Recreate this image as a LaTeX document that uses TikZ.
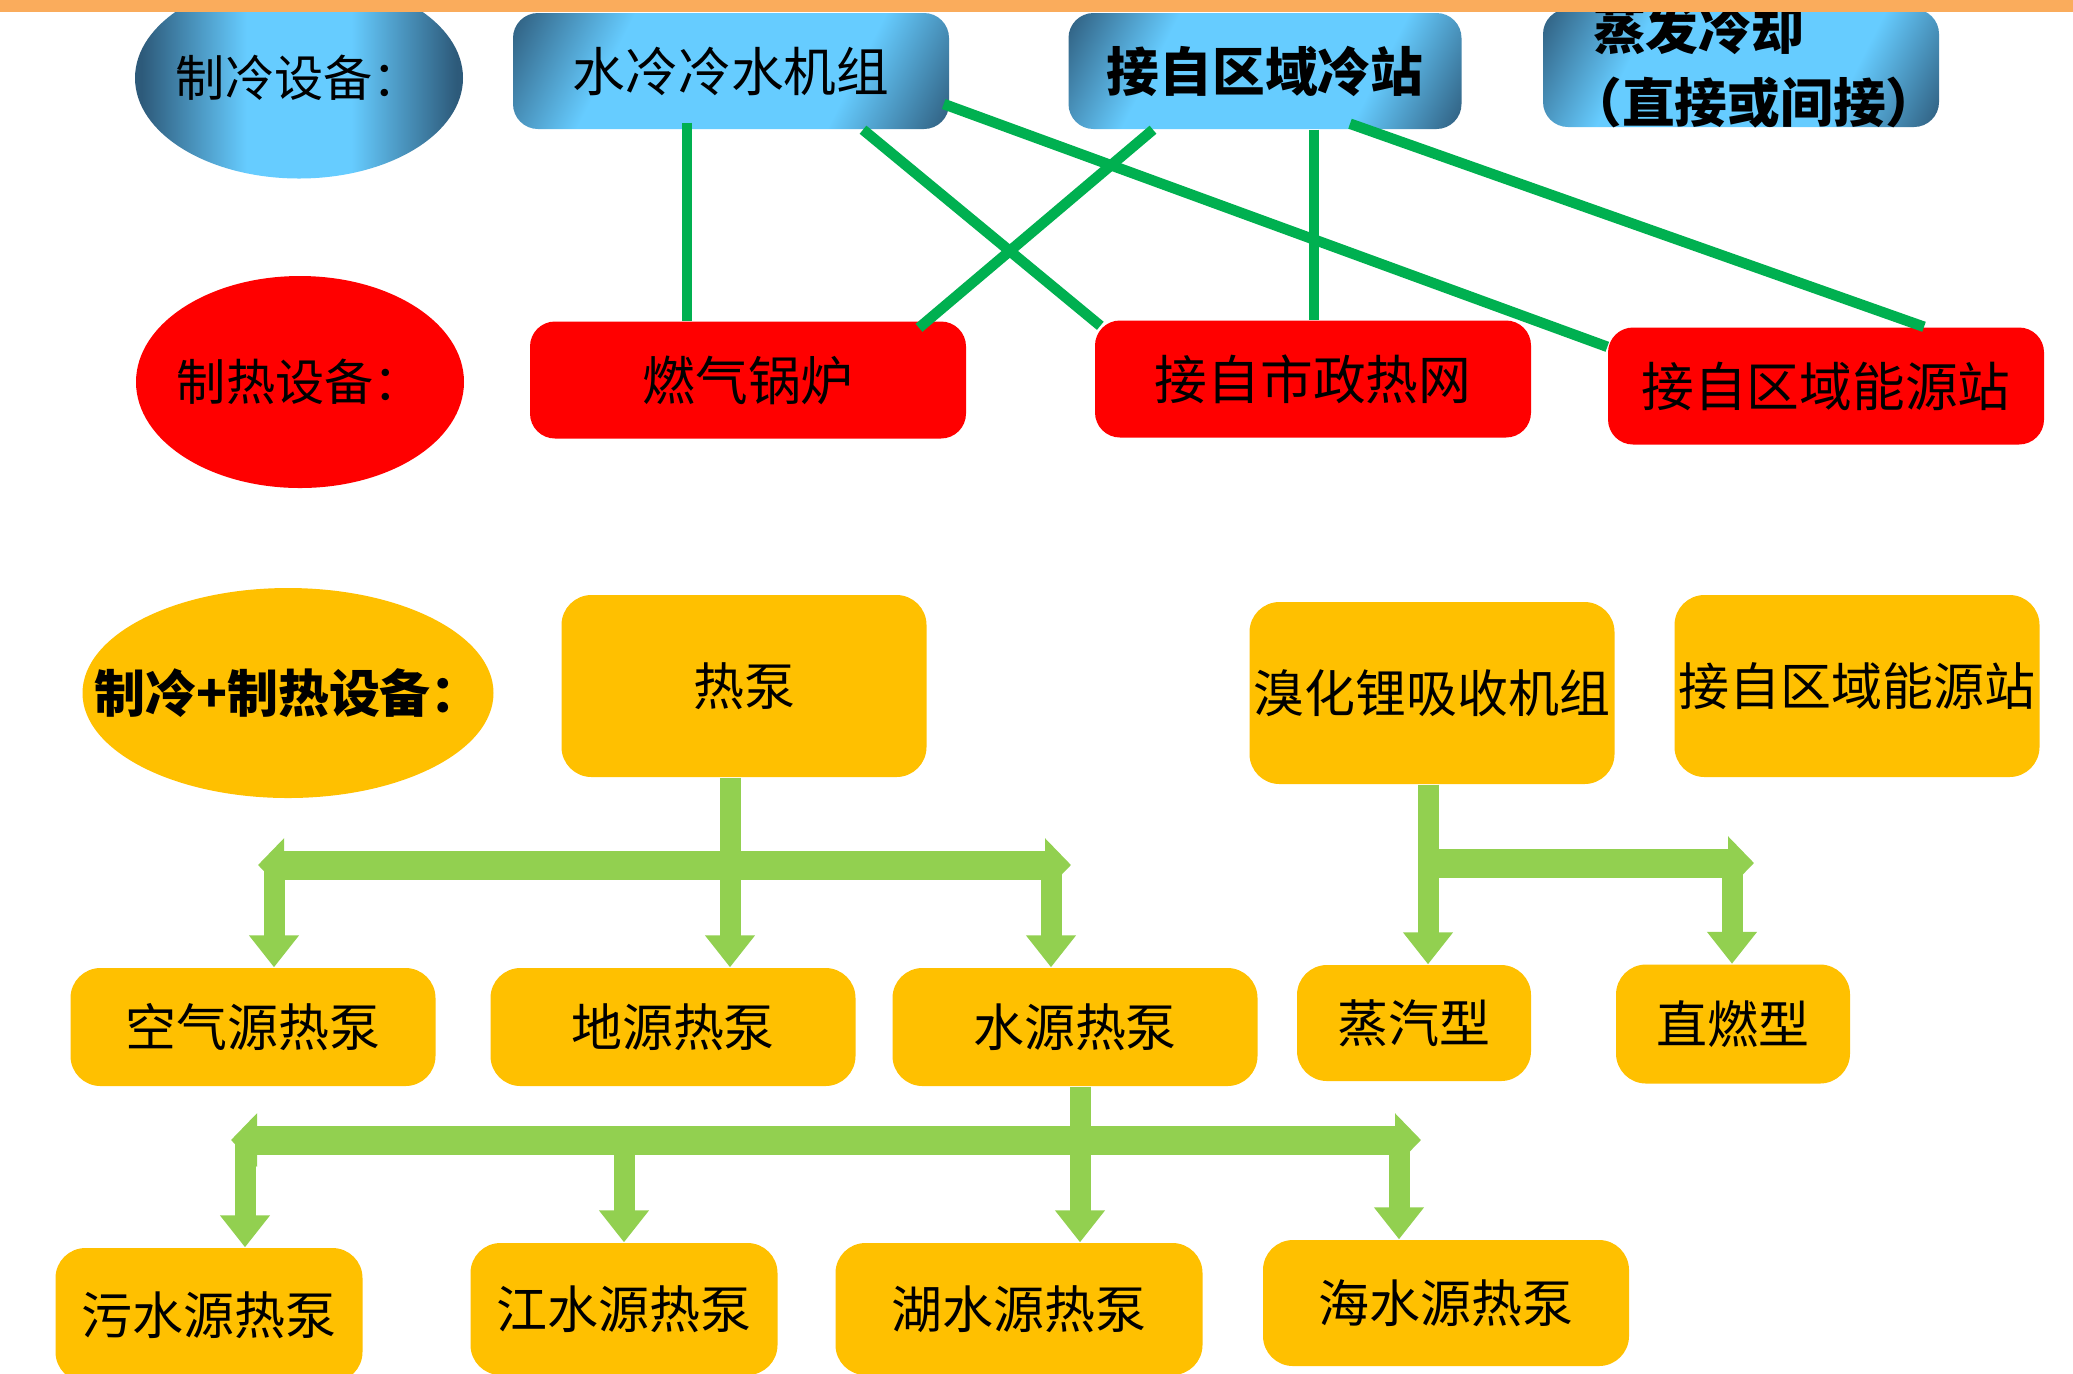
\documentclass[tikz,border=0pt]{standalone}
\usepackage{fontspec}
\newfontfamily\cjk{Noto Sans CJK SC}
\usetikzlibrary{arrows.meta,shapes.geometric}
\definecolor{topbar}{RGB}{250,172,92}
\definecolor{bluedark}{RGB}{45,90,122}
\definecolor{bluelight}{RGB}{102,204,255}
\definecolor{linegreen}{RGB}{0,176,80}
\definecolor{arrowgreen}{RGB}{146,208,80}
\definecolor{boxorange}{RGB}{255,192,0}
\pgfdeclarehorizontalshading{blueglow}{100bp}{color(0bp)=(bluedark); color(16bp)=(bluedark); color(33bp)=(bluelight); color(67bp)=(bluelight); color(84bp)=(bluedark); color(100bp)=(bluedark)}
\pgfdeclarehorizontalshading{blueround}{100bp}{color(0bp)=(bluedark); color(26bp)=(bluedark); color(42bp)=(bluelight); color(58bp)=(bluelight); color(74bp)=(bluedark); color(100bp)=(bluedark)}
\begin{document}
\begin{tikzpicture}[
        coolbox/.style={rounded corners=0.25cm, shade, shading=blueglow, shading angle=-27, minimum height=1.16cm, inner xsep=0pt, font=\cjk\fontsize{15}{19}\selectfont},
        heatbox/.style={rounded corners=0.25cm, fill=red, minimum width=4.36cm, minimum height=1.17cm, font=\cjk\fontsize{15}{19}\selectfont},
        dualbox/.style={rounded corners=0.3cm, fill=boxorange, minimum width=3.65cm, inner xsep=0pt, font=\cjk\fontsize{14.5}{19}\selectfont},
        kindshape/.style={ellipse, inner sep=0pt},
        kindtext/.style={font=\cjk\fontsize{14}{18}\selectfont},
        link/.style={linegreen, line width=3pt},
        feed/.style={arrowgreen, line width=0.21cm, -{Triangle[width=0.48cm,length=0.32cm]}},
        rail/.style={arrowgreen, line width=0.29cm}
    ]
        \useasboundingbox (0,0) rectangle (20.73,-13.73);
        \clip (0,0) rectangle (20.73,-13.73);
        \fill[white] (0,0) rectangle (20.73,-13.73);

        \node[kindshape, shade, shading=blueround, shading angle=0, minimum width=3.28cm, minimum height=2.01cm] (coolk) at (2.99,-0.78) {};
        \node[kindtext] (coolt) at (coolk) {制冷设备：};
        \node[coolbox, minimum width=4.36cm] (wc) at (7.31,-0.71) {水冷冷水机组};
        \node[coolbox, minimum width=3.93cm, font=\cjk\bfseries\fontsize{15}{19}\selectfont] (dc) at (12.65,-0.71) {接自区域冷站};
        \node[coolbox, minimum width=3.96cm, minimum height=1.18cm] (evap) at (17.41,-0.68) {};
        \node[align=left, inner sep=0pt, font=\cjk\bfseries\fontsize{15}{20.7}\selectfont] (evapt) at (17.54,-0.66) {\hspace*{0.45em}蒸发冷却\\（直接或间接）};

        \node[kindshape, fill=red, minimum width=3.28cm, minimum height=2.12cm] (heatk) at (3.00,-3.82) {};
        \node[kindtext] (heatt) at (heatk) {制热设备：};
        \node[heatbox] (boil) at (7.48,-3.80) {燃气锅炉};
        \node[heatbox] (city) at (13.13,-3.79) {接自市政热网};
        \node[heatbox] (ne) at (18.26,-3.86) {接自区域能源站};

        \node[kindshape, fill=boxorange, minimum width=4.11cm, minimum height=2.10cm] (bothk) at (2.88,-6.93) {};
        \node[kindtext, font=\cjk\bfseries\fontsize{14.5}{18}\selectfont] (botht) at (bothk) {制冷+制热设备：};
        \node[dualbox, minimum height=1.82cm] (pump) at (7.44,-6.86) {热泵};
        \node[dualbox, minimum height=1.82cm] (libr) at (14.32,-6.93) {溴化锂吸收机组};
        \node[dualbox, minimum height=1.82cm] (nedual) at (18.57,-6.86) {接自区域能源站};

        \node[dualbox, minimum height=1.18cm] (air) at (2.53,-10.27) {空气源热泵};
        \node[dualbox, minimum height=1.18cm] (ground) at (6.73,-10.27) {地源热泵};
        \node[dualbox, minimum height=1.18cm] (water) at (10.75,-10.27) {水源热泵};
        \node[dualbox, minimum width=2.34cm, minimum height=1.16cm] (steam) at (14.14,-10.23) {蒸汽型};
        \node[dualbox, minimum width=2.34cm, minimum height=1.19cm] (fire) at (17.33,-10.24) {直燃型};

        \node[dualbox, minimum width=3.07cm, minimum height=1.34cm] (sewage) at (2.09,-13.15) {污水源热泵};
        \node[dualbox, minimum width=3.07cm, minimum height=1.32cm] (river) at (6.24,-13.09) {江水源热泵};
        \node[dualbox, minimum width=3.67cm, minimum height=1.32cm] (lake) at (10.19,-13.09) {湖水源热泵};
        \node[dualbox, minimum width=3.66cm, minimum height=1.26cm] (sea) at (14.46,-13.03) {海水源热泵};

        \draw[link] ([xshift=-0.44cm,yshift=0.07cm]wc.south) -- ([xshift=-0.61cm]boil.north);
        \draw[link] ([xshift=1.32cm]wc.south) -- ([xshift=0.06cm,yshift=-0.06cm]city.north west);
        \draw[link] ([xshift=-0.06cm,yshift=-0.33cm]wc.east) -- ([yshift=-0.2cm]ne.north west);
        \draw[link] ([xshift=-1.12cm]dc.south) -- ([xshift=1.71cm,yshift=-0.07cm]boil.north);
        \draw[link] ([xshift=0.49cm]dc.south) -- ([xshift=0.01cm]city.north);
        \draw[link] ([xshift=0.85cm,yshift=0.06cm]dc.south) -- ([xshift=0.98cm]ne.north);

        \coordinate (hpx) at ([xshift=-0.14cm]pump.south);
        \coordinate (hpl) at (2.58,-8.65);
        \coordinate (hpr) at (10.71,-8.65);
        \coordinate (hpa) at (2.74,-8.65);
        \coordinate (hpw) at (10.51,-8.65);
        \draw[rail, {Triangle[width=0.52cm,length=0.26cm]}-{Triangle[width=0.52cm,length=0.26cm]}] (hpl) -- (hpr);
        \draw[feed] (hpx) -- (hpx |- ground.north);
        \draw[feed] (hpa) -- (hpa |- air.north);
        \draw[feed] (hpw) -- (hpw |- water.north);

        \coordinate (wsx) at ([xshift=0.05cm]water.south);
        \coordinate (wsl) at (2.31,-11.40);
        \coordinate (wsr) at (14.21,-11.40);
        \coordinate (wsa) at (2.45,-11.40);
        \coordinate (wsb) at (6.24,-11.40);
        \coordinate (wsd) at (13.99,-11.40);
        \draw[rail, {Triangle[width=0.52cm,length=0.26cm]}-{Triangle[width=0.52cm,length=0.26cm]}] (wsl) -- (wsr);
        \draw[feed] (wsx) -- (wsx |- lake.north);
        \draw[feed] (wsa) -- (wsa |- sewage.north);
        \draw[feed] (wsb) -- (wsb |- river.north);
        \draw[feed] (wsd) -- (wsd |- sea.north);

        \coordinate (lbx) at ([xshift=-0.04cm]libr.south);
        \coordinate (lbr) at (17.54,-8.63);
        \coordinate (lbd) at (17.32,-8.63);
        \draw[rail, -{Triangle[width=0.52cm,length=0.26cm]}] (lbx |- lbr) -- (lbr);
        \draw[feed] (lbx) -- (lbx |- steam.north);
        \draw[feed] (lbd) -- (lbd |- fire.north);

        \fill[topbar] (0,0) rectangle (20.73,-0.12);
    \end{tikzpicture}
\end{document}
